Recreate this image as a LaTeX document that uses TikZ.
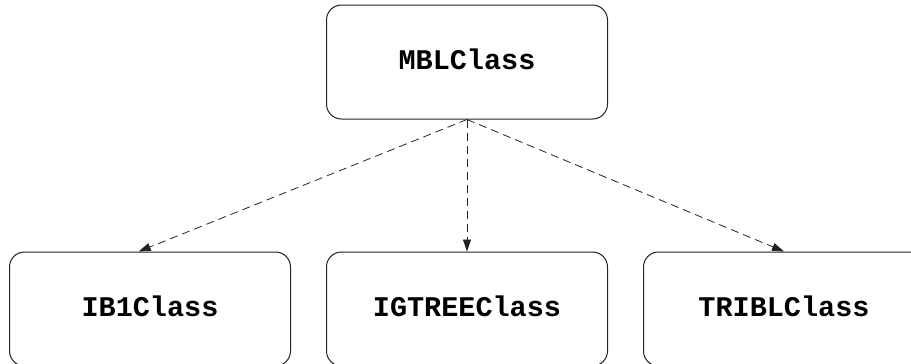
\documentclass[tikz,border=0pt]{standalone}
\usepackage{fontspec}
\setmonofont{Liberation Mono}
\usetikzlibrary{arrows.meta,positioning,calc}
\definecolor{boxline}{HTML}{222222}

\begin{document}
\begin{tikzpicture}[
  x=1pt, y=-1pt,
  cls/.style  = {draw=boxline, rounded corners=15pt, minimum width=281pt, minimum height=114pt,
                 line width=1pt, text depth=5pt, font=\fontsize{28.5}{34}\selectfont\ttfamily\bfseries},
  uses/.style = {-{Triangle[length=12pt,width=8pt]}, dashed, dash pattern=on 8pt off 5pt,
                 line width=0.8pt, draw=boxline},
]
\useasboundingbox (0,0) rectangle (911,364);

% ---------- base class -----------------------------------------------------------------
\node[cls] (mbl) at (467,62) {MBLClass};

% ---------- derived classes ------------------------------------------------------------
\node[cls, below=132pt of mbl]      (igtree) {IGTREEClass};
\node[cls, left=35pt of igtree]     (ib1)    {IB1Class};
\node[cls, right=35pt of igtree]    (tribl)  {TRIBLClass};

\draw[uses] (mbl.south) -- ($(ib1.north west)!0.46!(ib1.north east)$);
\draw[uses] (mbl.south) -- (igtree.north);
\draw[uses] (mbl.south) -- (tribl.north);

\end{tikzpicture}
\end{document}
